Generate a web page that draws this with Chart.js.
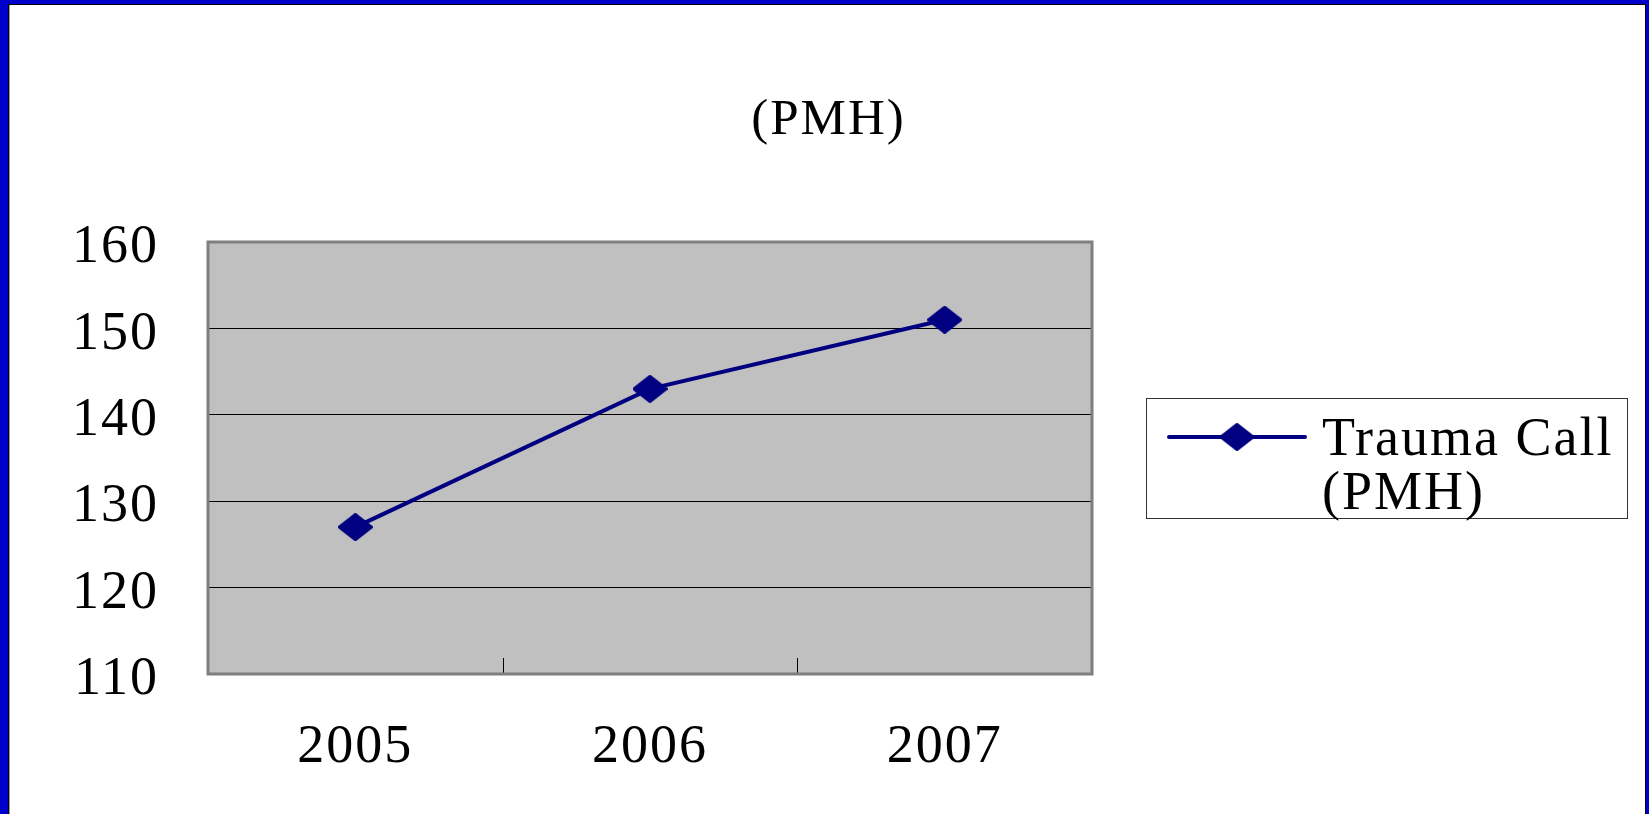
<!DOCTYPE html>
<html>
<head>
<meta charset="utf-8">
<script src="https://cdn.jsdelivr.net/npm/chart.js@4/dist/chart.umd.min.js"></script>
<style>
  html, body { margin: 0; padding: 0; width: 1649px; height: 814px; overflow: hidden; background: #0000cc; }
  #sheet {
    position: absolute; left: 8px; top: 4px; width: 1636px; height: 810px;
    background: #ffffff;
    border-left: 1px solid #000; border-top: 1px solid #000; border-right: 1px solid #000;
    box-shadow: inset 1px 0 0 #9a9a9a;
  }
  #wrap { position: absolute; left: 0; top: 0; width: 1649px; height: 814px; }
</style>
</head>
<body>
<div id="sheet"></div>
<div id="wrap"><canvas id="chart" width="1649" height="814"></canvas></div>
<script>
// Yearly trauma call counts
const years = ['2005', '2006', '2007'];
const traumaCalls = [127, 143, 151];
const seriesLabelLines = ['Trauma Call', '(PMH)'];
const chartTitle = '(PMH)';
const yMin = 110;
const yMax = 160;
const yStep = 10;

const NAVY = '#000080';
const SERIF = '"Liberation Serif", "Times New Roman", serif';

// Slightly wide diamond used for the markers and the legend sample
function makeDiamond(w, h, color) {
  const c = document.createElement('canvas');
  c.width = w; c.height = h;
  const g = c.getContext('2d');
  g.fillStyle = color; g.strokeStyle = color;
  g.lineJoin = 'round'; g.lineWidth = 3;
  g.beginPath();
  g.moveTo(w / 2, 1.5);
  g.lineTo(w - 1.5, h / 2);
  g.lineTo(w / 2, h - 1.5);
  g.lineTo(1.5, h / 2);
  g.closePath();
  g.fill(); g.stroke();
  return c;
}
const diamond = makeDiamond(35, 28, NAVY);

// Wider text tracking for all canvas text
const textSpacing = {
  id: 'textSpacing',
  beforeUpdate(chart) { chart.ctx.letterSpacing = '2px'; }
};

// Grey plot background and frame, plus short inward ticks between categories
const plotFrame = {
  id: 'plotFrame',
  beforeDraw(chart) {
    const { ctx, chartArea: a } = chart;
    ctx.save();
    ctx.fillStyle = '#c0c0c0';
    ctx.fillRect(a.left, a.top, a.right - a.left, a.bottom - a.top);
    ctx.restore();
  },
  beforeDatasetsDraw(chart) {
    const { ctx, chartArea: a } = chart;
    const xs = chart.scales.x;
    ctx.save();
    ctx.strokeStyle = '#000';
    ctx.lineWidth = 1;
    for (let i = 0; i < years.length - 1; i++) {
      const px = Math.round((xs.getPixelForValue(i) + xs.getPixelForValue(i + 1)) / 2) + 0.5;
      ctx.beginPath();
      ctx.moveTo(px, a.bottom);
      ctx.lineTo(px, a.bottom - 16);
      ctx.stroke();
    }
    ctx.strokeStyle = '#7f7f7f';
    ctx.lineWidth = 3;
    ctx.strokeRect(a.left, a.top, a.right - a.left, a.bottom - a.top);
    ctx.restore();
  }
};

// Boxed legend with a two-line series name
const legendPanel = {
  id: 'legendPanel',
  afterDraw(chart, args, opts) {
    const { ctx } = chart;
    const ds = chart.data.datasets[0];
    ctx.save();
    ctx.strokeStyle = '#333';
    ctx.lineWidth = 1;
    ctx.strokeRect(opts.x + 0.5, opts.y + 0.5, opts.width, opts.height);
    ctx.strokeStyle = ds.borderColor;
    ctx.lineWidth = ds.borderWidth;
    ctx.lineCap = 'round';
    ctx.beginPath();
    ctx.moveTo(opts.sampleStart, opts.sampleY);
    ctx.lineTo(opts.sampleEnd, opts.sampleY);
    ctx.stroke();
    const mx = (opts.sampleStart + opts.sampleEnd) / 2;
    ctx.drawImage(diamond, mx - diamond.width / 2, opts.sampleY - diamond.height / 2);
    ctx.fillStyle = '#000';
    ctx.font = opts.fontSize + 'px ' + SERIF;
    ctx.textBaseline = 'alphabetic';
    ctx.textAlign = 'left';
    seriesLabelLines.forEach((t, i) => ctx.fillText(t, opts.textX, opts.textBaseline + i * opts.lineGap));
    ctx.restore();
  }
};

new Chart(document.getElementById('chart'), {
  type: 'line',
  data: {
    labels: years,
    datasets: [{
      label: seriesLabelLines.join(' '),
      data: traumaCalls,
      borderColor: NAVY,
      backgroundColor: NAVY,
      borderWidth: 4,
      pointStyle: diamond,
      tension: 0,
      fill: false,
      yAxisID: 'y'
    }]
  },
  options: {
    responsive: false,
    animation: false,
    devicePixelRatio: 1,
    layout: { padding: { left: 8, right: 0, top: 0, bottom: 0 } },
    plugins: {
      legend: { display: false },
      tooltip: { enabled: false },
      title: {
        display: true,
        text: chartTitle,
        color: '#000',
        font: { family: SERIF, size: 51, weight: 'normal', lineHeight: 1.2 },
        padding: { top: 90, bottom: 90.8 }
      },
      legendPanel: {
        x: 1146, y: 398, width: 481, height: 120,
        sampleStart: 1169, sampleEnd: 1305, sampleY: 437,
        textX: 1322, textBaseline: 455, lineGap: 54, fontSize: 54
      }
    },
    scales: {
      x: {
        offset: true,
        grid: { display: false, drawTicks: false },
        border: { display: false },
        ticks: { color: '#000', font: { family: SERIF, size: 54 }, padding: 41 },
        afterFit(s) { s.height = 140; }
      },
      y: {
        min: yMin, max: yMax,
        grid: { color: '#000', lineWidth: 1, drawTicks: false },
        border: { display: false },
        ticks: { stepSize: yStep, color: '#000', font: { family: SERIF, size: 54 }, padding: 49, labelOffset: 6 },
        afterFit(s) { s.width = 200; }
      },
      legendGutter: {
        type: 'linear',
        position: 'right',
        grid: { display: false, drawTicks: false },
        border: { display: false },
        ticks: { display: false },
        afterFit(s) { s.width = 557; }
      }
    }
  },
  plugins: [textSpacing, plotFrame, legendPanel]
});
</script>
</body>
</html>
